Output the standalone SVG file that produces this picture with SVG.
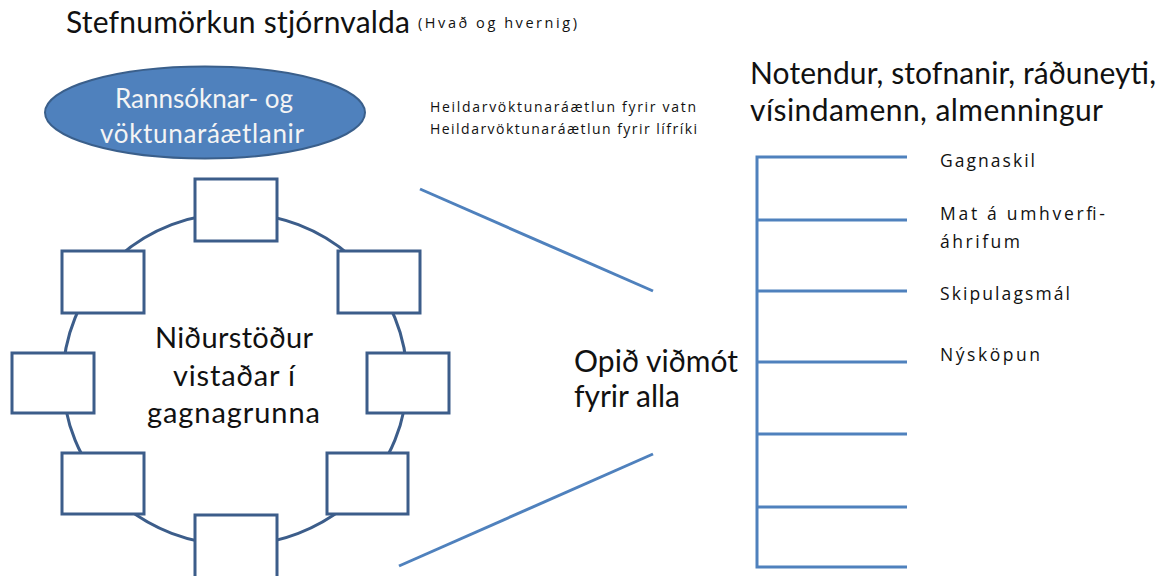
<svg xmlns="http://www.w3.org/2000/svg" width="1166" height="576" viewBox="0 0 1166 576">
<style>
text{font-family:Lato,"Open Sans","Liberation Sans",sans-serif;fill:#111}
.box{fill:#fff;stroke:#3c5d8a;stroke-width:3}
.ring{fill:none;stroke:#3c5d8a;stroke-width:3}
.ln{stroke:#4f81bd;stroke-width:3;fill:none}
.big{font-size:29px}
.ell{font-size:26px;fill:#f4f4f4}
.mid{font-family:"Open Sans",Lato,sans-serif;font-size:17.5px}
.sm{font-family:"Open Sans",Lato,sans-serif;font-size:14px}
</style>
<rect width="1166" height="576" fill="#fff"/>
<g id="title">
<text x="66" y="33" style="font-size:30px" textLength="344" lengthAdjust="spacing">Stefnumörkun stjórnvalda</text>
<text x="418" y="28" class="sm" style="font-size:14.5px" textLength="159" lengthAdjust="spacing">(Hvað og hvernig)</text>
</g>
<g id="plans">
<ellipse cx="205" cy="112.5" rx="160" ry="46" fill="#4f81bd" stroke="#3a5f8b" stroke-width="2"/>
<text x="115" y="108" class="ell" textLength="178" lengthAdjust="spacing">Rannsóknar- og</text>
<text x="100" y="143" class="ell" textLength="204" lengthAdjust="spacing">vöktunaráætlanir</text>
</g>
<g id="plan-notes">
<text x="430" y="112" class="sm" textLength="266" lengthAdjust="spacing">Heildarvöktunaráætlun fyrir vatn</text>
<text x="430" y="134" class="sm" textLength="267" lengthAdjust="spacing">Heildarvöktunaráætlun fyrir lífríki</text>
</g>
<g id="database">
<ellipse class="ring" cx="235" cy="379" rx="172" ry="166"/>
<text x="155" y="348" class="big" textLength="158" lengthAdjust="spacing">Niðurstöður</text>
<text x="173" y="386" class="big" textLength="122" lengthAdjust="spacing">vistaðar í</text>
<text x="147" y="423" class="big" textLength="173" lengthAdjust="spacing">gagnagrunna</text>
</g>
<g id="box-top"><rect class="box" x="195" y="179" width="82" height="62"/></g>
<g id="box-upper-left"><rect class="box" x="62" y="251" width="82" height="62"/></g>
<g id="box-upper-right"><rect class="box" x="338" y="251" width="82" height="62"/></g>
<g id="box-left"><rect class="box" x="12" y="353" width="82" height="60"/></g>
<g id="box-right"><rect class="box" x="367" y="353" width="82" height="60"/></g>
<g id="box-lower-left"><rect class="box" x="62" y="453" width="82" height="61"/></g>
<g id="box-lower-right"><rect class="box" x="327" y="453" width="81" height="61"/></g>
<g id="box-bottom"><rect class="box" x="195" y="515" width="82" height="70"/></g>
<g id="connectors">
<line class="ln" x1="420" y1="189" x2="653" y2="291"/>
<line class="ln" x1="399" y1="566" x2="653" y2="454"/>
<path class="ln" stroke-width="4" d="M907,157 H757 V567 H907"/>
<line class="ln" x1="757" y1="220" x2="907" y2="220"/>
<line class="ln" x1="757" y1="291" x2="907" y2="291"/>
<line class="ln" x1="757" y1="362" x2="907" y2="362"/>
<line class="ln" x1="757" y1="434" x2="907" y2="434"/>
<line class="ln" x1="757" y1="507" x2="907" y2="507"/>
</g>
<g id="interface">
<text x="574" y="372" class="big" style="font-size:30px" textLength="164" lengthAdjust="spacing">Opið viðmót</text>
<text x="574" y="407" class="big" style="font-size:30px" textLength="106" lengthAdjust="spacing">fyrir alla</text>
</g>
<g id="users">
<text x="750" y="84" style="font-size:30px" textLength="406" lengthAdjust="spacing">Notendur, stofnanir, ráðuneyti,</text>
<text x="750" y="121" style="font-size:30px" textLength="353" lengthAdjust="spacing">vísindamenn, almenningur</text>
</g>
<g id="uses">
<text x="940" y="167" class="mid" textLength="95" lengthAdjust="spacing">Gagnaskil</text>
<text x="940" y="220" class="mid" textLength="165" lengthAdjust="spacing">Mat á umhverfi-</text>
<text x="940" y="248" class="mid" textLength="80" lengthAdjust="spacing">áhrifum</text>
<text x="940" y="300" class="mid" textLength="130" lengthAdjust="spacing">Skipulagsmál</text>
<text x="940" y="361" class="mid" textLength="100" lengthAdjust="spacing">Nýsköpun</text>
</g>
</svg>
